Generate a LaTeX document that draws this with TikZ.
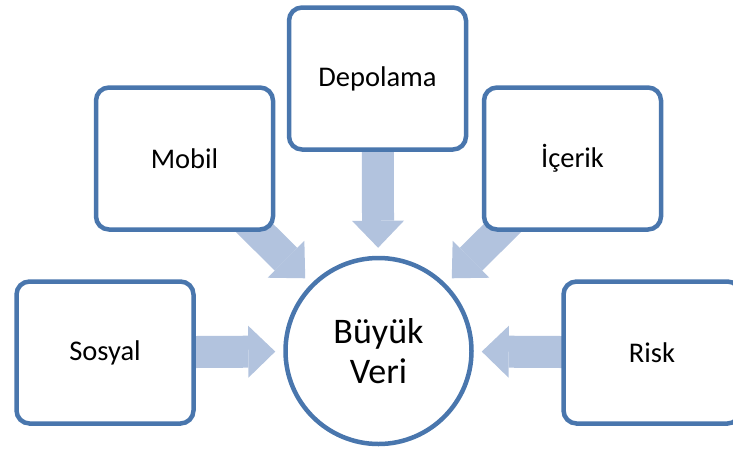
\documentclass[tikz,border=0pt]{standalone}
\usepackage{fontspec}
\setmainfont{Carlito}
\usetikzlibrary{arrows.meta}
\pgfdeclarelayer{bg}
\pgfsetlayers{bg,main}
\definecolor{edgeblue}{RGB}{73,118,173}
\definecolor{arrowfill}{RGB}{178,195,222}
\begin{document}
\begin{tikzpicture}[x=1pt,y=-1pt,
  box/.style={draw=edgeblue,line width=4.5pt,fill=white,rounded corners=13pt,
    minimum width=177pt,minimum height=142pt,inner sep=0pt,
    font=\fontsize{28.5}{34}\selectfont},
  hub/.style={circle,draw=edgeblue,line width=4.5pt,fill=white,
    minimum size=186pt,inner sep=0pt,align=center,
    font=\fontsize{36}{40}\selectfont},
  feed/.style={arrowfill,line width=32pt,
    -{Triangle[width=52pt,length=27pt,line width=0pt]},shorten >=8pt}]
  \useasboundingbox (0,0) rectangle (733,450);
  \clip (0,0) rectangle (733,450);

  % source boxes
  \node[box] (depo)   at (377.5,78.5)  {Depolama};
  \node[box] (mobil)  at (184.5,158.5) {Mobil};
  \node[box] (icerik) at (572.5,158.5) {İçerik};
  \node[box] (sosyal) at (105,352.5)   {Sosyal};
  \node[box] (risk)   at (652,352.5)   {Risk};

  % central hub
  \node[hub] (big) at (378.5,351) {Büyük\\Veri};

  % block arrows run behind the boxes into the hub
  \begin{pgfonlayer}{bg}
    \foreach \s in {depo,mobil,icerik,sosyal,risk}
      \draw[feed] (\s.center) -- (big);
  \end{pgfonlayer}
\end{tikzpicture}
\end{document}
